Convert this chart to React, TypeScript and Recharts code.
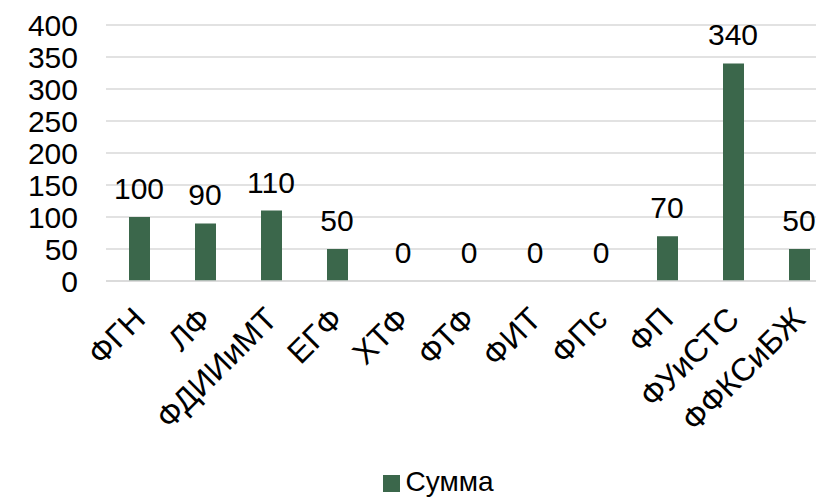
import React from 'react'
import { ComposedChart, Bar, Line, XAxis, YAxis, CartesianGrid, Legend, LabelList } from 'recharts'

const faculties = ['ФГН', 'ЛФ', 'ФДИИиМТ', 'ЕГФ', 'ХТФ', 'ФТФ', 'ФИТ', 'ФПс', 'ФП', 'ФУиСТС', 'ФФКСиБЖ']
const totals = [100, 90, 110, 50, 0, 0, 0, 0, 70, 340, 50]
const yTicks = [0, 50, 100, 150, 200, 250, 300, 350, 400]

const data = faculties.map((name, i) => ({ name, total: totals[i] }))

const FONT = 'Arial, "Liberation Sans", sans-serif'

// rotated category labels, right end anchored under the bar
const CategoryTick = ({ x, y, payload }: any) => (
  <g transform={`translate(${x + 8},${y + 32})`}>
    <text x={0} y={0} textAnchor="end" transform="rotate(-45)" fontSize={32} fill="#000" fontFamily={FONT}>
      {payload.value}
    </text>
  </g>
)

export default function App() {
  return (
    <div style={{ position: 'absolute', left: 0, top: 0, width: 816, height: 498, overflow: 'hidden', background: '#fff' }}>
      <ComposedChart
        width={866}
        height={498}
        data={data}
        margin={{ top: 25, right: 34, left: 0, bottom: 0 }}
        style={{ fontFamily: FONT }}
      >
        <CartesianGrid vertical={false} stroke="#d9d9d9" strokeWidth={1.3} />
        <XAxis
          dataKey="name"
          interval={0}
          height={185}
          axisLine={{ stroke: '#d9d9d9', strokeWidth: 1.3 }}
          tickLine={false}
          tick={<CategoryTick />}
        />
        <YAxis
          domain={[0, 400]}
          ticks={yTicks}
          interval={0}
          width={106}
          axisLine={false}
          tickLine={false}
          tickMargin={22}
          tick={{ fontSize: 30, fill: '#000', fontFamily: FONT }}
        />
        <Legend
          verticalAlign="bottom"
          iconType="square"
          iconSize={17}
          wrapperStyle={{ left: 10, width: 866, fontSize: 28, color: '#000', fontFamily: FONT }}
          formatter={(v: string) => <span style={{ color: '#000', marginLeft: 2 }}>{v}</span>}
        />
        <Bar dataKey="total" name="Сумма" fill="#3b674b" barSize={21} isAnimationActive={false} />
        {/* invisible series that carries the value labels, zeros included */}
        <Line
          dataKey="total"
          stroke="none"
          dot={false}
          activeDot={false}
          legendType="none"
          isAnimationActive={false}
        >
          <LabelList dataKey="total" position="top" offset={18} fill="#000" fontSize={30} fontFamily={FONT} />
        </Line>
      </ComposedChart>
    </div>
  )
}
